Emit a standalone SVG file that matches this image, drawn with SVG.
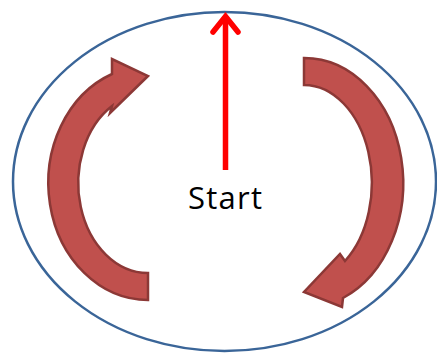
<svg xmlns="http://www.w3.org/2000/svg" width="437" height="353" viewBox="0 0 437 353">
<style>
.blk{fill:#C0504D;stroke:#8C3836;stroke-width:2.5;stroke-linejoin:miter}
.lbl{font-family:"Open Sans","Liberation Sans",sans-serif;font-size:31px;fill:#000}
</style>
<rect width="437" height="353" fill="#fff"/>
<g id="ellipse"><ellipse cx="224.5" cy="181.5" rx="211.5" ry="169.5" fill="none" stroke="#3A6598" stroke-width="2.5"/></g>
<g id="connectors">
<g id="left-arrow"><path class="blk" d="M148,300 A100,117 0 0 1 112,74 L112,59 L148,76 L110,113 L112,106 A70,90 0 0 0 148,273 Z"/></g>
<g id="right-arrow"><path class="blk" d="M304,58 A99,125 0 0 1 343,298 L342,307 L304,292 L340,254 L345,261 A68,98 0 0 0 304,85 Z"/></g>
<g id="up-arrow" fill="none" stroke="#FF0000" stroke-width="5.5">
<line x1="225.5" y1="170" x2="225.5" y2="16"/>
<polyline points="213,32 225.5,16.5 238,32" stroke-linejoin="miter" stroke-linecap="round"/>
</g>
</g>
<g id="start"><text class="lbl" x="225" y="209" text-anchor="middle" textLength="74">Start</text></g>
</svg>
